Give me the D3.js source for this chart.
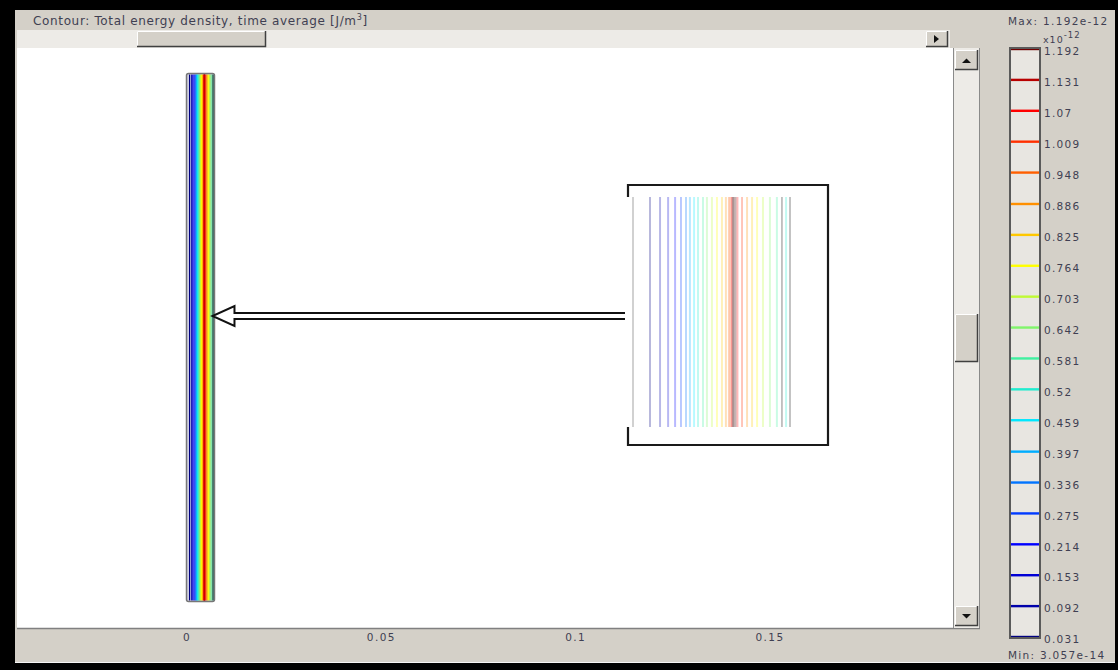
<!DOCTYPE html>
<html>
<head>
<meta charset="utf-8">
<script src="https://cdn.jsdelivr.net/npm/d3@7"></script>
<style>
  html, body { margin: 0; padding: 0; background: #000; }
  svg { display: block; }
  .ui { font-family: "DejaVu Sans", Verdana, sans-serif; }
</style>
</head>
<body>
<svg id="chart" width="1118" height="670"></svg>
<script>
// ---- data ----------------------------------------------------------
const axisTicks = [0, 0.05, 0.1, 0.15];
const axisTickLabels = ["0", "0.05", "0.1", "0.15"];

// contour levels of the energy density (units of 1e-12 J/m^3)
const levels = [0.031, 0.092, 0.153, 0.214, 0.275, 0.336, 0.397, 0.459, 0.52, 0.581,
                0.642, 0.703, 0.764, 0.825, 0.886, 0.948, 1.009, 1.07, 1.131, 1.192];
const levelLabels = ["0.031", "0.092", "0.153", "0.214", "0.275", "0.336", "0.397", "0.459", "0.52", "0.581",
                     "0.642", "0.703", "0.764", "0.825", "0.886", "0.948", "1.009", "1.07", "1.131", "1.192"];

const fieldMaxLabel = "1.192e-12";
const fieldMinLabel = "3.057e-14";

// slab geometry [m]
const slabWidth = 0.0072;
const slabHeight = 0.1358;

// positions of the iso-lines across the slab [mm] and their levels
const contourPos = [0.78, 1.24, 1.61, 1.93, 2.20, 2.43, 2.61, 2.80, 2.98, 3.21,
                    3.39, 3.62, 3.85, 4.08, 4.26, 4.40, 4.48, 4.54, 4.58, 4.62,
                    4.70, 4.79, 5.00, 5.23, 5.46, 5.69, 5.96, 6.28, 6.60, 7.02];
const contourLevel = [0.031, 0.092, 0.153, 0.214, 0.275, 0.336, 0.397, 0.459, 0.52, 0.581,
                      0.642, 0.703, 0.764, 0.825, 0.886, 0.948, 1.009, 1.07, 1.131, 1.192,
                      1.131, 1.07, 1.009, 0.886, 0.825, 0.764, 0.703, 0.642, 0.581, 0.52];
// material boundaries across the slab [mm]
const boundaryPos = [0, 6.83, 7.2];

// ---- layout ----------------------------------------------------------
const W = 1118, H = 670;
const frame = {l: 15, t: 10, r: 1115, b: 663};
const view = {l: 17, t: 48, r: 953, b: 628};
const vscroll = {l: 953, r: 980};
const legend = {l: 1010, r: 1040, t: 48, b: 638};
const inset = {l: 628, r: 828, t: 185, b: 445, lineTop: 197, lineBot: 427, x0: 633, x1: 790};
const arrowY = 316;

const svg = d3.select("#chart");
const gray = "#d4d0c8", track = "#edebe7", txt = "#3f3f52";

// colour map (rainbow)
const cmap = d3.scaleLinear()
  .domain([0.031, 0.214, 0.459, 0.581, 0.764, 0.886, 1.07, 1.192])
  .range(["#000080", "#0000ff", "#00e8ff", "#40f0a0", "#ffff00", "#ff9000", "#ff0000", "#700000"]);

// ---- window chrome ----------------------------------------------------------
svg.append("rect").attr("x", 0).attr("y", 0).attr("width", W).attr("height", H).attr("fill", "#000");
svg.append("rect").attr("x", frame.l).attr("y", frame.t)
  .attr("width", frame.r - frame.l).attr("height", frame.b - frame.t).attr("fill", gray);
svg.append("line").attr("x1", frame.l).attr("x2", frame.r).attr("y1", frame.b - 0.5).attr("y2", frame.b - 0.5)
  .attr("stroke", "#f4f4f4");

const title = svg.append("text").attr("class", "ui").attr("x", 33).attr("y", 25)
  .attr("font-size", 12).attr("fill", txt).attr("letter-spacing", 0.65);
title.append("tspan").text("Contour: Total energy density, time average [J/m");
title.append("tspan").attr("dy", -5).attr("font-size", 8).text("3");
title.append("tspan").attr("dy", 5).text("]");

// horizontal scrollbar
svg.append("rect").attr("x", view.l).attr("y", 30).attr("width", 933).attr("height", 18).attr("fill", track);
function bevel(x, y, w, h) {
  const g = svg.append("g");
  g.append("rect").attr("x", x).attr("y", y).attr("width", w).attr("height", h).attr("fill", gray);
  g.append("path").attr("d", `M${x + 0.5},${y + h}V${y + 0.5}H${x + w}`).attr("stroke", "#fff").attr("fill", "none");
  g.append("path").attr("d", `M${x},${y + h - 0.5}H${x + w - 0.5}V${y}`).attr("stroke", "#404040").attr("fill", "none").attr("stroke-width", 1.5);
  return g;
}
bevel(137, 31, 129, 16);
bevel(926, 31, 22, 16);
svg.append("path").attr("d", "M934,35L939,39L934,43Z").attr("fill", "#111");

// drawing area
svg.append("rect").attr("x", view.l).attr("y", view.t)
  .attr("width", view.r - view.l).attr("height", view.b - view.t).attr("fill", "#fff");
svg.append("line").attr("x1", view.l).attr("x2", vscroll.r).attr("y1", view.b + 0.5).attr("y2", view.b + 0.5)
  .attr("stroke", "#808080").attr("stroke-width", 1.5);

// vertical scrollbar
svg.append("rect").attr("x", vscroll.l).attr("y", view.t).attr("width", vscroll.r - vscroll.l)
  .attr("height", view.b - view.t).attr("fill", track);
svg.append("line").attr("x1", vscroll.l + 0.5).attr("x2", vscroll.l + 0.5).attr("y1", view.t).attr("y2", view.b)
  .attr("stroke", "#8a8a8a");
svg.append("line").attr("x1", vscroll.r - 0.5).attr("x2", vscroll.r - 0.5).attr("y1", view.t).attr("y2", view.b)
  .attr("stroke", "#8a8a8a");
bevel(955, 50, 23, 20);
svg.append("path").attr("d", "M962,63L966.5,58.5L971,63Z").attr("fill", "#111");
bevel(955, 314, 23, 48);
bevel(955, 606, 23, 20);
svg.append("path").attr("d", "M962,614L966.5,618.5L971,614Z").attr("fill", "#111");

// ---- scales ----------------------------------------------------------
const x = d3.scaleLinear().domain([0, 0.15]).range([186.5, 769.5]);
const pxPerM = (x(0.15) - x(0)) / 0.15;
const yMid = (view.t + view.b) / 2 - 0.5;
const y = d3.scaleLinear().domain([0, 1]).range([yMid, yMid - pxPerM]);
const xi = d3.scaleLinear().domain([0, slabWidth * 1000]).range([inset.x0, inset.x1]);

svg.append("clipPath").attr("id", "view")
  .append("rect").attr("x", view.l).attr("y", view.t).attr("width", view.r - view.l).attr("height", view.b - view.t);
const plot = svg.append("g").attr("clip-path", "url(#view)");

// ---- slab with its contour lines ----------------------------------------------------------
const sx0 = x(0), sx1 = x(slabWidth), sy0 = y(slabHeight / 2), sy1 = y(-slabHeight / 2);
plot.append("rect").attr("x", sx0).attr("y", sy0).attr("width", sx1 - sx0).attr("height", sy1 - sy0)
  .attr("rx", 2).attr("fill", "#d0d0e4");
plot.append("g").selectAll("line").data(d3.zip(contourPos, contourLevel)).join("line")
  .attr("x1", d => x(d[0] / 1000)).attr("x2", d => x(d[0] / 1000))
  .attr("y1", sy0 + 1).attr("y2", sy1 - 1)
  .attr("stroke", d => cmap(d[1])).attr("stroke-width", 1.05);
plot.append("g").selectAll("line").data(boundaryPos.slice(1, -1)).join("line")
  .attr("x1", d => x(d / 1000)).attr("x2", d => x(d / 1000))
  .attr("y1", sy0 + 1).attr("y2", sy1 - 1)
  .attr("stroke", "#333").attr("stroke-width", 1.2);
plot.append("rect").attr("x", sx0).attr("y", sy0).attr("width", sx1 - sx0).attr("height", sy1 - sy0)
  .attr("rx", 2).attr("fill", "none").attr("stroke", "#777").attr("stroke-width", 1.5);

// ---- magnified view of the slab ----------------------------------------------------------
const zoomG = plot.append("g");
zoomG.append("rect").attr("x", inset.l).attr("y", inset.t).attr("width", inset.r - inset.l)
  .attr("height", inset.b - inset.t).attr("fill", "#fff");
zoomG.append("g").selectAll("line").data(d3.zip(contourPos, contourLevel)).join("line")
  .attr("x1", d => xi(d[0])).attr("x2", d => xi(d[0]))
  .attr("y1", inset.lineTop).attr("y2", inset.lineBot)
  .attr("stroke", d => d[1] > 1.1 ? "#8a6a6a" : cmap(d[1]))
  .attr("stroke-opacity", d => d[1] > 1.1 ? 0.5 : 0.28)
  .attr("stroke-width", 2);
zoomG.append("g").selectAll("line").data(boundaryPos).join("line")
  .attr("x1", d => xi(d)).attr("x2", d => xi(d))
  .attr("y1", inset.lineTop).attr("y2", inset.lineBot)
  .attr("stroke", "#999").attr("stroke-opacity", (d, i) => i === 0 ? 0.5 : 0.65).attr("stroke-width", 1.8);
zoomG.append("path")
  .attr("d", `M${inset.l},${inset.lineTop}V${inset.t}H${inset.r}V${inset.b}H${inset.l}V${inset.lineBot}`)
  .attr("fill", "none").attr("stroke", "#1a1a1a").attr("stroke-width", 2.2);

// arrow from the magnified view to the slab
const tipX = sx1 - 2, headX = tipX + 22, tailX = inset.l - 3;
plot.append("path")
  .attr("d", `M${tailX},${arrowY - 3}H${headX}V${arrowY - 10}L${tipX},${arrowY}L${headX},${arrowY + 10}V${arrowY + 3}H${tailX}`)
  .attr("fill", "#fff").attr("stroke", "#111").attr("stroke-width", 2).attr("stroke-linejoin", "miter");

// ---- x axis ----------------------------------------------------------
const xAxis = d3.axisBottom(x).tickValues(axisTicks).tickSize(0).tickPadding(0)
  .tickFormat((d, i) => axisTickLabels[i]);
const gx = svg.append("g").attr("transform", `translate(0,${view.b + 6})`).call(xAxis);
gx.select(".domain").remove();
gx.selectAll("text").attr("font-family", "DejaVu Sans").attr("font-size", 10.5)
  .attr("fill", txt).attr("letter-spacing", 1.4).attr("dy", "0.71em");

// ---- colour legend ----------------------------------------------------------
const cb = d3.scaleLinear().domain([levels[0], levels[levels.length - 1]]).range([legend.b - 1, legend.t + 1]);
svg.append("rect").attr("x", legend.l).attr("y", legend.t).attr("width", legend.r - legend.l)
  .attr("height", legend.b - legend.t).attr("fill", "#e8e6e1");
svg.append("g").selectAll("line").data(levels).join("line")
  .attr("x1", legend.l).attr("x2", legend.r)
  .attr("y1", d => cb(d)).attr("y2", d => cb(d))
  .attr("stroke", d => cmap(d)).attr("stroke-width", 2.4);
svg.append("rect").attr("x", legend.l).attr("y", legend.t).attr("width", legend.r - legend.l)
  .attr("height", legend.b - legend.t).attr("fill", "none").attr("stroke", "#5a5a5a").attr("stroke-width", 2);

const cAxis = d3.axisRight(cb).tickValues(levels).tickSize(0).tickPadding(4)
  .tickFormat((d, i) => levelLabels[i]);
const gc = svg.append("g").attr("transform", `translate(${legend.r},0)`).call(cAxis);
gc.select(".domain").remove();
gc.selectAll("text").attr("font-family", "DejaVu Sans").attr("font-size", 10.5)
  .attr("fill", txt).attr("letter-spacing", 1.3).attr("dy", "0.55em");

const exp = svg.append("text").attr("class", "ui").attr("x", 1043).attr("y", 43)
  .attr("font-size", 9.5).attr("fill", txt).attr("letter-spacing", 1).text("x10");
exp.append("tspan").attr("dy", -5).attr("font-size", 8.5).text("-12");

svg.append("text").attr("class", "ui").attr("x", 1008).attr("y", 25)
  .attr("font-size", 10.5).attr("fill", txt).attr("letter-spacing", 1.3).text("Max: " + fieldMaxLabel);
svg.append("text").attr("class", "ui").attr("x", 1008).attr("y", 659)
  .attr("font-size", 10.5).attr("fill", txt).attr("letter-spacing", 1.3).text("Min: " + fieldMinLabel);
</script>
</body>
</html>
